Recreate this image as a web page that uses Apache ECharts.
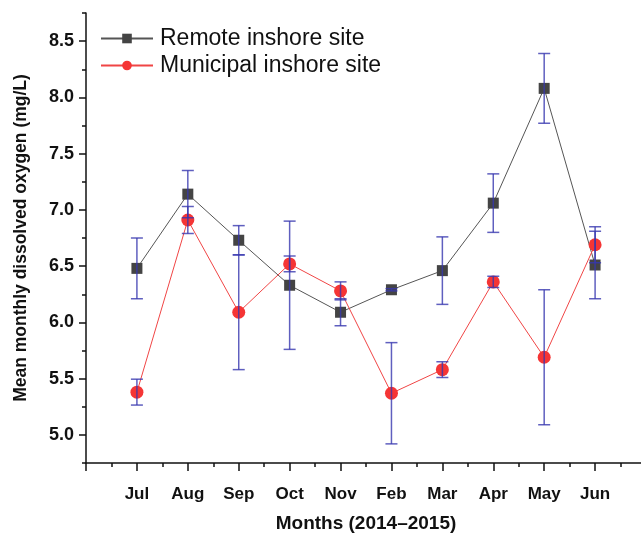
<!DOCTYPE html>
<html>
<head>
<meta charset="utf-8">
<script src="https://cdn.jsdelivr.net/npm/echarts@6/dist/echarts.min.js"></script>
<style>
	html, body { margin: 0; padding: 0; background: #fff; }
	#chart { width: 641px; height: 534px; }
</style>
</head>
<body>
<div id="chart"></div>
<script>
	// months of the survey (Jul 2014 - Jun 2015)
	var months = ['Jul', 'Aug', 'Sep', 'Oct', 'Nov', 'Feb', 'Mar', 'Apr', 'May', 'Jun'];
	var remote = [6.48, 7.14, 6.73, 6.33, 6.09, 6.29, 6.46, 7.06, 8.08, 6.51];
	var remoteErr = [0.27, 0.21, 0.13, 0.57, 0.12, 0.01, 0.30, 0.26, 0.31, 0.30];
	var municipal = [5.38, 6.91, 6.09, 6.52, 6.28, 5.37, 5.58, 6.36, 5.69, 6.69];
	var municipalErr = [0.115, 0.12, 0.51, 0.07, 0.08, 0.45, 0.07, 0.05, 0.60, 0.16];
	var yTicks = [5.0, 5.5, 6.0, 6.5, 7.0, 7.5, 8.0, 8.5];

	var chart = echarts.init(document.getElementById('chart'));

	function pts(vals) {
		return vals.map(function (v, i) { return [i + 1, v]; });
	}
	function bars(vals, errs) {
		return vals.map(function (v, i) { return [i + 1, v - errs[i], v + errs[i]]; });
	}

	// error bar with caps
	function renderErr(params, api) {
		var x = api.value(0);
		var lo = api.coord([x, api.value(1)]);
		var hi = api.coord([x, api.value(2)]);
		var w = 6;
		var st = { stroke: 'rgba(55,55,175,0.8)', lineWidth: 1.5 };
		return {
			type: 'group',
			children: [
				{ type: 'line', shape: { x1: lo[0], y1: lo[1], x2: hi[0], y2: hi[1] }, style: st },
				{ type: 'line', shape: { x1: lo[0] - w, y1: lo[1], x2: lo[0] + w, y2: lo[1] }, style: st },
				{ type: 'line', shape: { x1: hi[0] - w, y1: hi[1], x2: hi[0] + w, y2: hi[1] }, style: st }
			]
		};
	}

	var labelFont = { fontFamily: 'Liberation Sans, Arial', fontWeight: 'bold', fontSize: 17, color: '#111' };

	var option = {
		animation: false,
		grid: { left: 86, top: 13, width: 560, bottom: 71, outerBoundsMode: 'none' },
		legend: {
			orient: 'vertical',
			left: 95,
			top: 22,
			itemWidth: 52,
			itemHeight: 12,
			itemGap: 4,
			data: ['Remote inshore site', 'Municipal inshore site'],
			textStyle: { fontFamily: 'Liberation Sans, Arial', fontSize: 23, color: '#111', padding: [0, 0, 0, 2] }
		},
		xAxis: [{
			type: 'value',
			min: 0,
			max: 11,
			interval: 1,
			splitLine: { show: false },
			axisLine: { lineStyle: { color: '#111', width: 1.5 } },
			axisTick: { length: 8, lineStyle: { color: '#111', width: 1.5 } },
			axisLabel: Object.assign({
				margin: 23,
				formatter: function (v) { return months[v - 1] || ''; }
			}, labelFont),
			name: 'Months (2014\u20132015)',
			nameLocation: 'middle',
			nameGap: 51,
			nameTextStyle: { fontFamily: 'Liberation Sans, Arial', fontWeight: 'bold', fontSize: 19, color: '#111' }
		}, {
			type: 'value',
			position: 'bottom',
			min: 0,
			max: 11,
			interval: 0.5,
			splitLine: { show: false },
			axisLine: { show: false },
			axisTick: { length: 4, lineStyle: { color: '#111', width: 1.5 } },
			axisLabel: { show: false }
		}],
		yAxis: [{
			type: 'value',
			min: 4.75,
			max: 8.75,
			splitLine: { show: false },
			axisLine: { show: true, lineStyle: { color: '#111', width: 1.5 } },
			axisTick: { show: true, length: 7, customValues: yTicks, lineStyle: { color: '#111', width: 1.5 } },
			axisLabel: Object.assign({}, labelFont, {
				customValues: yTicks,
				margin: 12,
				fontSize: 18,
				formatter: function (v) { return v.toFixed(1); }
			}),
			name: 'Mean monthly dissolved oxygen (mg/L)',
			nameLocation: 'middle',
			nameGap: 56,
			nameTextStyle: { fontFamily: 'Liberation Sans, Arial', fontWeight: 'bold', fontSize: 17.5, color: '#111' }
		}, {
			type: 'value',
			position: 'left',
			min: 4.75,
			max: 8.75,
			interval: 0.25,
			splitLine: { show: false },
			axisLine: { show: false },
			axisTick: { show: true, length: 4, lineStyle: { color: '#111', width: 1.5 } },
			axisLabel: { show: false }
		}],
		series: [{
			name: 'Remote inshore site',
			type: 'line',
			data: pts(remote),
			symbol: 'rect',
			symbolSize: 11,
			lineStyle: { color: '#555', width: 1 },
			itemStyle: { color: '#444' },
			z: 3
		}, {
			name: 'Municipal inshore site',
			type: 'line',
			data: pts(municipal),
			symbol: 'circle',
			symbolSize: 13,
			lineStyle: { color: '#f04545', width: 1 },
			itemStyle: { color: '#f53535' },
			z: 4
		}, {
			type: 'custom',
			renderItem: renderErr,
			data: bars(remote, remoteErr),
			encode: { x: 0, y: [1, 2] },
			z: 5
		}, {
			type: 'custom',
			renderItem: renderErr,
			data: bars(municipal, municipalErr),
			encode: { x: 0, y: [1, 2] },
			z: 5
		}]
	};

	chart.setOption(option);
</script>
</body>
</html>
